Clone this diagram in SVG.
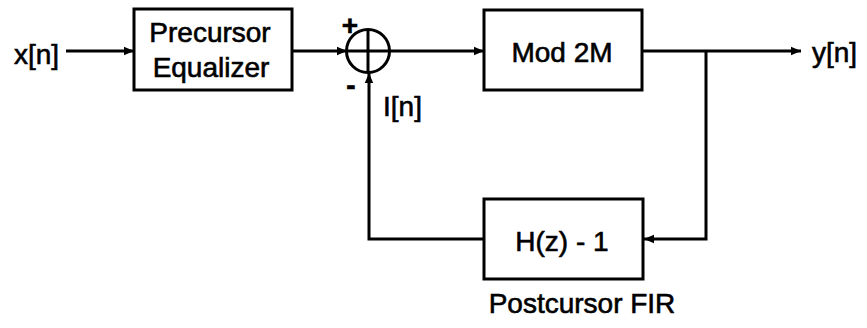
<svg xmlns="http://www.w3.org/2000/svg" width="867" height="328" viewBox="0 0 867 328">
<defs>
<style>
.box{fill:#fff;stroke:#000;stroke-width:3}
.ln{fill:none;stroke:#000;stroke-width:3}
.t{font-family:"Liberation Sans",Arial,sans-serif;font-size:28px;fill:#000;stroke:#000;stroke-width:0.6}
.m{text-anchor:middle}
</style>
<marker id="ah" markerUnits="userSpaceOnUse" markerWidth="12" markerHeight="10" refX="10" refY="5" orient="auto">
<path d="M0,0.8 L10,5 L0,9.2 Z" fill="#000"/>
</marker>
</defs>
<rect width="867" height="328" fill="#fff"/>
<g id="connectors">
<line class="ln" x1="66" y1="51" x2="134" y2="51" marker-end="url(#ah)"/>
<line class="ln" x1="292" y1="51" x2="347" y2="51" marker-end="url(#ah)"/>
<line class="ln" x1="389" y1="51" x2="484" y2="51" marker-end="url(#ah)"/>
<line class="ln" x1="642" y1="51" x2="801" y2="51" marker-end="url(#ah)"/>
<path class="ln" d="M706,51 V239 H644" marker-end="url(#ah)"/>
<path class="ln" d="M484,239 H369 V73" marker-end="url(#ah)"/>
</g>
<g id="input"><text class="t" x="14" y="64" font-size="29">x[n]</text></g>
<g id="precursor">
<rect class="box" x="134" y="9" width="158" height="81"/>
<text class="t m" x="210" y="42">Precursor</text>
<text class="t m" x="211" y="77">Equalizer</text>
</g>
<g id="sum">
<circle class="ln" cx="368" cy="51" r="21.5"/>
<line class="ln" x1="346.5" y1="51" x2="389.5" y2="51"/>
<line class="ln" x1="368" y1="29.5" x2="368" y2="72.5"/>
<text class="t m" x="350" y="35" font-weight="bold" font-size="26">+</text>
<text class="t m" x="351" y="95" font-weight="bold" font-size="26">-</text>
<text class="t" x="383" y="116">I[n]</text>
</g>
<g id="mod">
<rect class="box" x="484" y="10" width="158" height="80"/>
<text class="t m" x="562" y="62">Mod 2M</text>
</g>
<g id="output"><text class="t" x="812" y="62">y[n]</text></g>
<g id="fir">
<rect class="box" x="484" y="199" width="159" height="80"/>
<text class="t m" x="562" y="251">H(z) - 1</text>
<text class="t m" x="582" y="313" font-size="31">Postcursor FIR</text>
</g>
</svg>
